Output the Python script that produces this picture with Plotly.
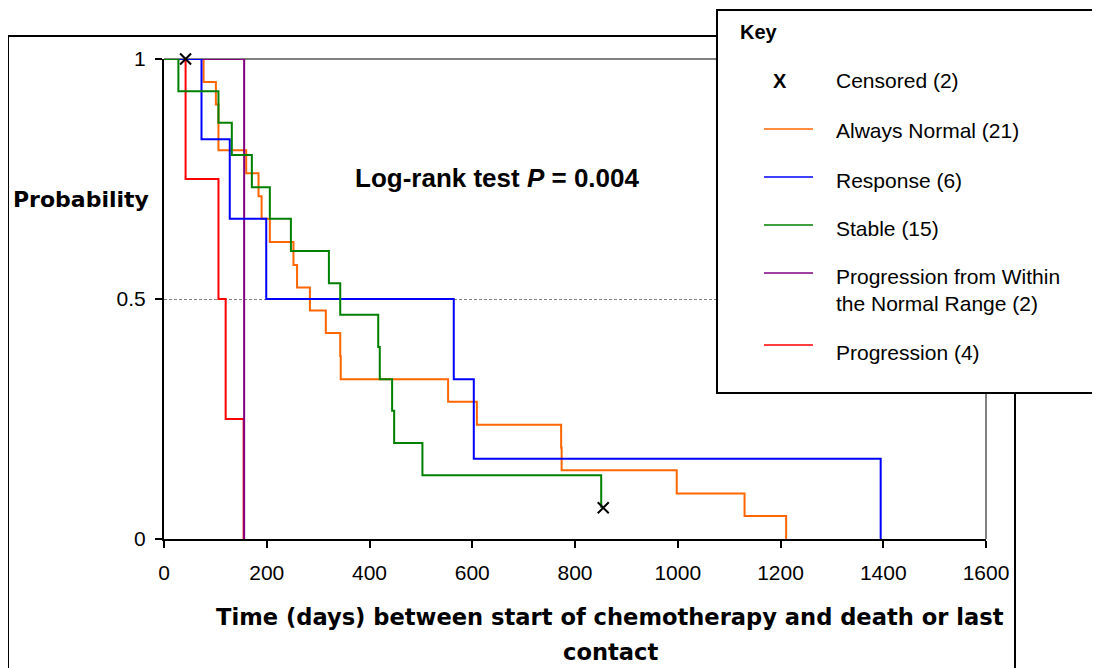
import plotly.graph_objects as go

# ---------------- data ----------------
always_normal_days = [0, 77, 101, 106, 160, 184, 190, 206, 252, 259, 284, 315, 343, 344, 553, 609, 773, 774, 998, 1130, 1211]
always_normal_surv = [1.0, 0.952, 0.905, 0.810, 0.762, 0.714, 0.667, 0.619, 0.571, 0.524, 0.476, 0.429, 0.381, 0.333, 0.286, 0.238, 0.190, 0.143, 0.095, 0.048, 0.0]

response_days = [0, 73, 128, 199, 564, 603, 1395]
response_surv = [1.0, 0.833, 0.667, 0.5, 0.333, 0.167, 0.0]

stable_days = [0, 28, 106, 132, 171, 206, 247, 321, 343, 417, 420, 444, 448, 503, 851, 855]
stable_surv = [1.0, 0.933, 0.867, 0.8, 0.733, 0.667, 0.6, 0.533, 0.467, 0.4, 0.333, 0.267, 0.2, 0.133, 0.067, 0.067]

prog_normal_days = [0, 156]
prog_normal_surv = [1.0, 0.0]

progression_days = [0, 42, 106, 120, 155]
progression_surv = [1.0, 0.75, 0.5, 0.25, 0.0]

censored_days = [42, 855]
censored_surv = [1.0, 0.065]

x_ticks = [0, 200, 400, 600, 800, 1000, 1200, 1400, 1600]
y_ticks = [0, 0.5, 1]
y_tick_text = ["0", "0.5", "1"]

key_labels = ["Always Normal (21)", "Response (6)", "Stable (15)",
              "Progression from Within<br>the Normal Range (2)", "Progression (4)"]
key_colors = ["#FF6600", "#0000FF", "#008000", "#800080", "#FF0000"]

# ---------------- layout geometry ----------------
# the page body has an 8px margin, so the figure starts at (8, 8) in the window
OFF = 8
W, H = 1100 - OFF, 668 - OFF
L, R, T, B = 164, 986, 59, 539  # plot area in window pixels


def px_x(p):
    return (p - L) / (R - L)


def px_y(p):
    return (B - p) / (B - T)


ARIAL = "Liberation Sans, Arial, sans-serif"
WIDE = "DejaVu Sans, Verdana, sans-serif"

fig = go.Figure()

series = [
    (always_normal_days, always_normal_surv, "#FF6600"),
    (progression_days, progression_surv, "#FF0000"),
    (prog_normal_days, prog_normal_surv, "#800080"),
    (response_days, response_surv, "#0000FF"),
    (stable_days, stable_surv, "#008000"),
]
for xs, ys, col in series:
    fig.add_trace(go.Scatter(x=xs, y=ys, mode="lines", line=dict(color=col, width=2, shape="hv"),
                             cliponaxis=False, showlegend=False, hoverinfo="skip"))

fig.add_trace(go.Scatter(x=censored_days, y=censored_surv, mode="markers",
                         marker=dict(symbol="x-thin", size=11, color="black",
                                     line=dict(color="black", width=2)),
                         cliponaxis=False, showlegend=False, hoverinfo="skip"))

shapes = []
# plot-area frame (grey top and right)
shapes.append(dict(type="line", xref="paper", yref="paper", x0=0, x1=1, y0=1, y1=1,
                   line=dict(color="#808080", width=2), layer="below"))
shapes.append(dict(type="line", xref="paper", yref="paper", x0=1, x1=1, y0=0, y1=1,
                   line=dict(color="#808080", width=2), layer="below"))
# outer chart border
shapes.append(dict(type="rect", xref="paper", yref="paper",
                   x0=px_x(8), x1=px_x(1015), y0=px_y(720), y1=px_y(36),
                   line=dict(color="black", width=2), fillcolor="rgba(0,0,0,0)", layer="above"))
# key box
shapes.append(dict(type="rect", xref="paper", yref="paper",
                   x0=px_x(717), x1=px_x(1150), y0=px_y(393), y1=px_y(10),
                   line=dict(color="black", width=2), fillcolor="white", layer="above"))
key_line_y = [129, 177, 225, 273, 345]
for yy, col in zip(key_line_y, key_colors):
    shapes.append(dict(type="line", xref="paper", yref="paper",
                       x0=px_x(764), x1=px_x(813), y0=px_y(yy), y1=px_y(yy),
                       line=dict(color=col, width=1.5), layer="above"))

annotations = []


def ann(text, x, y, size, family=ARIAL, xanchor="left", bold=False):
    annotations.append(dict(text=text, x=px_x(x), y=px_y(y), xref="paper", yref="paper",
                            showarrow=False, xanchor=xanchor, yanchor="middle",
                            font=dict(family=family, size=size, color="black",
                                      weight="bold" if bold else "normal")))


ann("Probability", 81, 200, 22, WIDE, "center", True)
ann("Time (days) between start of chemotherapy and death or last", 610, 617, 22.6, WIDE, "center", True)
ann("contact", 610, 652, 22.6, WIDE, "center", True)
ann("Log-rank test <i>P</i> = 0.004", 497, 178, 26, ARIAL, "center", True)
ann("Key", 738, 32, 20, ARIAL, "left", True)
ann("X", 780, 81, 20, ARIAL, "center", True)
ann("Censored (2)", 834, 81, 21)
key_text_y = [130, 180, 229, 290, 352]
for t, yy in zip(key_labels, key_text_y):
    annotations.append(dict(text=t, x=px_x(834), y=px_y(yy), xref="paper", yref="paper",
                            showarrow=False, xanchor="left", yanchor="middle", align="left",
                            font=dict(family=ARIAL, size=21, color="black")))

fig.update_layout(
    width=W, height=H,
    margin=dict(l=L - OFF, r=1100 - R, t=T - OFF, b=668 - B),
    paper_bgcolor="white", plot_bgcolor="white",
    shapes=shapes, annotations=annotations,
    showlegend=False,
    xaxis=dict(range=[0, 1600], tickvals=x_ticks, ticktext=[str(v) for v in x_ticks],
               showline=True, linecolor="black", linewidth=2, ticks="outside", ticklen=7,
               tickwidth=2, tickcolor="black", showgrid=False, zeroline=False,
               tickfont=dict(family=ARIAL, size=21, color="black"), ticklabelstandoff=7),
    yaxis=dict(range=[0, 1], tickvals=y_ticks, ticktext=y_tick_text,
               showline=True, linecolor="black", linewidth=2, ticks="outside", ticklen=7,
               tickwidth=2, tickcolor="black", showgrid=True, gridcolor="#808080",
               griddash="3px,2px", gridwidth=1, zeroline=False,
               tickfont=dict(family=ARIAL, size=21, color="black"), ticklabelstandoff=5),
)

fig.write_html("out.html")
